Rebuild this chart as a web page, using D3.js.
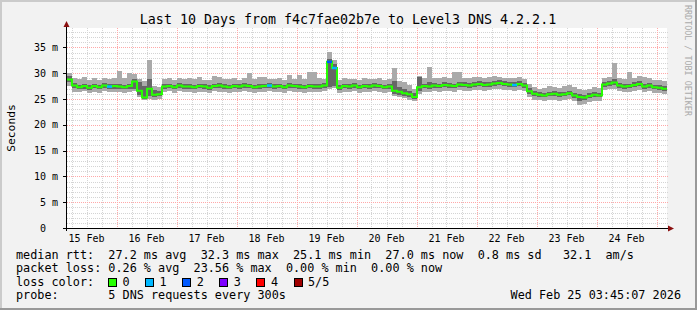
<!DOCTYPE html>
<html>
<head>
<meta charset="utf-8">
<script src="https://cdn.jsdelivr.net/npm/d3@7"></script>
<style>
body { margin: 0; background: #f2f2f2; }
text { font-family: "DejaVu Sans Mono", monospace; white-space: pre; }
</style>
</head>
<body>
<script>
// SmokePing style graph: Last 10 days, f4c7fae02b7e -> Level3 DNS 4.2.2.1

// one sample every 2 hours, starting at plot left edge
var startTime = new Date(2026, 1, 15, 4, 12);
var endTime = new Date(2026, 1, 25, 4, 12);
var stepHours = 2;

// median rtt (ms)
var median = [
  28.8, 27.6, 27.3, 27.5, 27.2, 27.5, 27.3, 27.6, 27.4, 27.5,
  27.4, 27.3, 27.5, 28.4, 26.6, 25.3, 27.0, 25.8, 25.9, 27.4,
  27.5, 27.3, 27.6, 27.4, 27.4, 27.3, 27.5, 27.4, 27.2, 27.5,
  27.6, 27.4, 27.3, 27.5, 27.4, 27.6, 27.5, 27.3, 27.4, 27.5,
  27.6, 27.4, 27.5, 27.3, 27.6, 27.5, 27.4, 27.3, 27.5, 27.4,
  27.4, 27.6, 32.2, 31.0, 27.2, 27.5, 27.4, 27.6, 27.3, 27.5,
  27.4, 27.6, 27.5, 27.3, 27.4, 26.6, 26.4, 26.1, 25.9, 25.4,
  27.3, 27.5, 27.4, 27.6, 27.5, 27.7, 27.6, 27.5, 27.8, 27.7,
  27.6, 27.8, 27.9, 27.7, 27.8, 28.0, 28.1, 27.9, 27.8, 27.7,
  27.9, 27.6, 26.5, 26.0, 25.8, 25.7, 25.9, 26.0, 25.8, 25.9,
  26.1, 25.7, 25.4, 25.3, 25.6, 25.8, 25.7, 27.8, 28.0, 28.2,
  27.6, 27.4, 27.5, 27.7, 27.9, 27.4, 27.6, 27.3, 27.2, 27.0
];
// smoke: fastest ping
var pingMin = [
  27.6, 26.4, 26.3, 26.5, 26.2, 26.4, 26.1, 26.5, 26.3, 26.4,
  26.3, 26.2, 26.4, 26.5, 25.3, 24.8, 25.0, 24.9, 25.0, 26.4,
  26.5, 26.2, 26.5, 26.3, 26.4, 26.2, 26.4, 26.3, 26.1, 26.5,
  26.4, 26.3, 26.2, 26.4, 26.3, 26.5, 26.4, 26.2, 26.3, 26.4,
  26.5, 26.3, 26.4, 26.2, 26.5, 26.4, 26.3, 26.2, 26.4, 26.3,
  26.3, 26.5, 27.0, 27.2, 26.2, 26.4, 26.3, 26.5, 26.2, 26.4,
  26.3, 26.5, 26.4, 26.2, 26.3, 25.6, 25.3, 25.1, 24.9, 24.7,
  26.0, 26.4, 26.3, 26.5, 26.4, 26.6, 26.5, 26.4, 26.7, 26.6,
  26.5, 26.7, 26.8, 26.6, 26.7, 26.9, 27.0, 26.8, 26.7, 26.6,
  26.8, 26.5, 25.4, 24.9, 24.8, 24.7, 24.8, 24.9, 24.7, 24.8,
  25.0, 24.6, 23.8, 24.1, 24.5, 24.7, 24.6, 26.7, 26.9, 27.0,
  26.5, 26.3, 26.4, 26.6, 26.7, 26.3, 26.5, 26.2, 26.1, 26.0
];
// smoke: second ping
var ping2 = [
  28.2, 27.1, 26.9, 27.0, 26.8, 27.1, 26.9, 27.1, 27.0, 27.0,
  26.9, 26.9, 27.0, 26.9, 25.8, 25.0, 25.6, 25.4, 25.5, 27.0,
  27.1, 26.9, 27.2, 27.0, 27.0, 26.9, 27.1, 27.0, 26.8, 27.1,
  27.2, 27.0, 26.9, 27.1, 27.0, 27.2, 27.1, 26.9, 27.0, 27.1,
  27.2, 27.0, 27.1, 26.9, 27.2, 27.1, 27.0, 26.9, 27.1, 27.0,
  27.0, 27.2, 27.4, 27.6, 26.8, 27.1, 27.0, 27.2, 26.9, 27.1,
  27.0, 27.2, 27.1, 26.9, 27.0, 26.0, 25.8, 25.6, 25.4, 25.0,
  26.6, 27.1, 27.0, 27.2, 27.1, 27.3, 27.2, 27.1, 27.4, 27.3,
  27.2, 27.4, 27.5, 27.3, 27.4, 27.6, 27.7, 27.5, 27.4, 27.3,
  27.5, 27.2, 26.0, 25.5, 25.4, 25.3, 25.5, 25.6, 25.4, 25.5,
  25.7, 25.2, 24.6, 24.8, 25.1, 25.4, 25.3, 27.4, 27.6, 27.8,
  27.2, 27.0, 27.1, 27.3, 27.5, 27.0, 27.2, 26.9, 26.8, 26.6
];
// smoke: fourth ping
var ping4 = [
  29.4, 28.1, 27.8, 28.0, 27.7, 28.0, 27.8, 28.1, 27.9, 28.0,
  27.9, 27.8, 28.0, 28.9, 28.2, 27.6, 28.8, 26.8, 26.6, 27.9,
  28.0, 27.8, 28.1, 27.9, 27.9, 27.8, 28.0, 27.9, 27.7, 28.0,
  28.1, 27.9, 27.8, 28.0, 27.9, 28.1, 28.0, 27.8, 27.9, 28.0,
  28.1, 27.9, 28.0, 27.8, 28.1, 28.0, 27.9, 27.8, 28.0, 27.9,
  27.9, 28.1, 32.8, 31.8, 27.7, 28.0, 27.9, 28.1, 27.8, 28.0,
  27.9, 28.1, 28.0, 27.8, 27.9, 28.4, 27.4, 27.0, 26.6, 26.2,
  29.2, 28.0, 28.2, 28.1, 28.0, 28.2, 28.1, 28.0, 28.3, 28.2,
  28.1, 28.3, 28.4, 28.2, 28.3, 28.5, 28.6, 28.4, 28.3, 28.2,
  28.4, 28.1, 27.2, 26.5, 26.3, 26.2, 26.4, 26.5, 26.3, 26.4,
  26.6, 26.2, 25.9, 25.8, 26.1, 26.3, 26.2, 28.3, 28.5, 28.9,
  28.1, 27.9, 28.0, 28.2, 28.4, 27.9, 28.1, 27.8, 27.7, 27.5
];
// smoke: slowest ping
var pingMax = [
  30.0, 29.0, 28.8, 29.2, 28.6, 29.0, 28.7, 29.1, 28.8, 29.0,
  30.4, 29.0, 30.0, 29.8, 28.8, 28.4, 32.5, 27.6, 27.4, 28.9,
  29.0, 28.7, 29.1, 28.8, 29.0, 28.8, 29.2, 28.7, 28.6, 29.4,
  29.3, 28.8, 28.9, 29.0, 28.7, 29.0, 30.0, 28.8, 29.3, 29.3,
  28.9, 28.8, 29.1, 28.7, 29.6, 28.9, 29.6, 28.8, 30.2, 30.2,
  29.0, 28.9, 34.1, 32.5, 28.6, 29.0, 28.8, 28.9, 28.7, 29.1,
  28.8, 28.9, 29.0, 28.7, 28.9, 31.0, 28.4, 28.2, 27.8, 27.0,
  29.4, 29.0, 31.2, 29.1, 29.0, 29.2, 29.0, 30.2, 30.2, 29.1,
  29.0, 29.3, 29.2, 29.0, 29.3, 29.4, 29.3, 29.1, 29.0, 29.0,
  29.2, 28.9, 28.0, 27.3, 27.0, 27.2, 27.5, 27.4, 27.2, 27.6,
  27.8, 27.3, 26.9, 26.8, 27.0, 27.3, 27.1, 29.0, 29.3, 31.9,
  29.0, 28.9, 30.2, 29.1, 29.4, 29.3, 29.0, 28.7, 28.6, 28.4
];
// samples with packet loss (index, lost pings)
var lossIndex = [8, 40, 52, 53, 89];
var lossCount = [1, 1, 2, 1, 1];

// legend
var lossLabels = ["0", "1", "2", "3", "4", "5/5"];
var lossColors = ["#26ff00", "#00b8ff", "#0059ff", "#7e00ff", "#ff0000", "#a00000"];
var rttLine = "median rtt:  27.2 ms avg  32.3 ms max  25.1 ms min  27.0 ms now  0.8 ms sd   32.1  am/s";
var lossLine = "packet loss: 0.26 % avg  23.56 % max  0.00 % min  0.00 % now";
var probeLine = "probe:       5 DNS requests every 300s";
var stamp = "Wed Feb 25 03:45:07 2026";
var yTicks = [0, 5, 10, 15, 20, 25, 30, 35];

var W = 697, H = 310;
var pLeft = 67, pRight = 667, pTop = 28, pBottom = 228;

var svg = d3.select("body").append("svg")
    .attr("width", W)
    .attr("height", H);

// background + 3d border
svg.append("rect").attr("width", W).attr("height", H).attr("fill", "#f2f2f2");
svg.append("path").attr("d", "M0,0H" + W + "V2H2V" + H + "H0Z").attr("fill", "#cbcbcb");
svg.append("path").attr("d", "M" + W + "," + H + "H0V" + (H - 2) + "H" + (W - 2) + "V0H" + W + "Z").attr("fill", "#999");

svg.append("rect")
    .attr("x", pLeft).attr("y", pTop)
    .attr("width", pRight - pLeft).attr("height", pBottom - pTop)
    .attr("fill", "#fff");

var x = d3.scaleTime().domain([startTime, endTime]).range([pLeft, pRight]);
var y = d3.scaleLinear().domain([0, 38.76]).range([pBottom, pTop]);

// grid
var grid = svg.append("g").attr("shape-rendering", "crispEdges");
var minorY = d3.range(1, 39).filter(function(v) { return v % 5 != 0; });
grid.selectAll(".hmin").data(minorY).enter().append("line")
    .attr("x1", pLeft).attr("x2", pRight + 1)
    .attr("y1", function(d) { return Math.round(y(d)) + 0.5; })
    .attr("y2", function(d) { return Math.round(y(d)) + 0.5; })
    .attr("stroke", "#d4d4d4").attr("stroke-dasharray", "1,1");
var minorX = d3.timeHour.every(6).range(startTime, endTime).filter(function(d) { return d.getHours() != 0; });
grid.selectAll(".vmin").data(minorX).enter().append("line")
    .attr("y1", pTop).attr("y2", pBottom)
    .attr("x1", function(d) { return Math.round(x(d)) + 0.5; })
    .attr("x2", function(d) { return Math.round(x(d)) + 0.5; })
    .attr("stroke", "#d4d4d4").attr("stroke-dasharray", "1,1");
grid.selectAll(".hmaj").data(yTicks.slice(1)).enter().append("line")
    .attr("x1", pLeft).attr("x2", pRight + 1)
    .attr("y1", function(d) { return Math.round(y(d)) + 0.5; })
    .attr("y2", function(d) { return Math.round(y(d)) + 0.5; })
    .attr("stroke", "#ffa8a8").attr("stroke-dasharray", "1,1");
var days = d3.timeDay.range(startTime, endTime);
grid.selectAll(".vmaj").data(days).enter().append("line")
    .attr("y1", pTop).attr("y2", pBottom)
    .attr("x1", function(d) { return Math.round(x(d)) + 0.5; })
    .attr("x2", function(d) { return Math.round(x(d)) + 0.5; })
    .attr("stroke", "#ffa8a8").attr("stroke-dasharray", "1,1");

// samples
var loss = median.map(function() { return 0; });
lossIndex.forEach(function(i, k) { loss[i] = lossCount[k]; });
var data = median.map(function(m, i) {
    return {
        t0: d3.timeHour.offset(startTime, i * stepHours),
        t1: d3.timeHour.offset(startTime, (i + 1) * stepHours),
        med: m, p1: pingMin[i], p2: ping2[i], p4: ping4[i], p5: pingMax[i], loss: loss[i]
    };
});

// smoke
var smoke = svg.append("g").attr("shape-rendering", "crispEdges");
smoke.selectAll(".outer").data(data).enter().append("rect")
    .attr("x", function(d) { return x(d.t0); })
    .attr("width", function(d) { return x(d.t1) - x(d.t0); })
    .attr("y", function(d) { return y(d.p5); })
    .attr("height", function(d) { return y(d.p1) - y(d.p5); })
    .attr("fill", "#aaaaaa");
smoke.selectAll(".inner").data(data).enter().append("rect")
    .attr("x", function(d) { return x(d.t0); })
    .attr("width", function(d) { return x(d.t1) - x(d.t0); })
    .attr("y", function(d) { return y(d.p4); })
    .attr("height", function(d) { return y(d.p2) - y(d.p4); })
    .attr("fill", "#666666");

// median line, coloured by loss
var stepLine = d3.line()
    .x(function(d) { return x(d.t); })
    .y(function(d) { return y(d.v); });
var pts = [];
data.forEach(function(d) { pts.push({t: d.t0, v: d.med}); pts.push({t: d.t1, v: d.med}); });
svg.append("path")
    .attr("d", stepLine(pts))
    .attr("fill", "none")
    .attr("stroke", lossColors[0])
    .attr("stroke-width", 2);
svg.selectAll(".lossseg").data(data.filter(function(d) { return d.loss > 0; })).enter().append("path")
    .attr("d", function(d) { return stepLine([{t: d.t0, v: d.med}, {t: d.t1, v: d.med}]); })
    .attr("stroke", function(d) { return lossColors[d.loss]; })
    .attr("stroke-width", 2.5);

// axes
svg.append("line").attr("x1", pLeft - 3).attr("x2", pRight + 3)
    .attr("y1", pBottom + 0.5).attr("y2", pBottom + 0.5)
    .attr("stroke", "#000").attr("shape-rendering", "crispEdges");
svg.append("line").attr("x1", pLeft - 0.5).attr("x2", pLeft - 0.5)
    .attr("y1", pBottom + 3).attr("y2", pTop - 3)
    .attr("stroke", "#000").attr("shape-rendering", "crispEdges");
svg.append("path").attr("d", "M" + (pRight + 1) + "," + (pBottom - 2.5) + "L" + (pRight + 7) + "," + (pBottom + 0.5) + "L" + (pRight + 1) + "," + (pBottom + 3.5) + "Z")
    .attr("fill", "#8b1010");
svg.append("path").attr("d", "M" + (pLeft - 3.5) + "," + (pTop - 1) + "L" + (pLeft - 0.5) + "," + (pTop - 7) + "L" + (pLeft + 2.5) + "," + (pTop - 1) + "Z")
    .attr("fill", "#8b1010");

// y tick marks + labels
svg.selectAll(".ytick").data(yTicks).enter().append("line")
    .attr("x1", pLeft - 4).attr("x2", pLeft)
    .attr("y1", function(d) { return Math.round(y(d)) + 0.5; })
    .attr("y2", function(d) { return Math.round(y(d)) + 0.5; })
    .attr("stroke", "#000").attr("shape-rendering", "crispEdges");
svg.selectAll(".ylab").data(yTicks).enter().append("text")
    .attr("x", 58)
    .attr("y", function(d) { return y(d) + 3.5; })
    .attr("text-anchor", "end")
    .attr("font-size", "10px")
    .attr("xml:space", "preserve")
    .text(function(d) { return d == 0 ? "0  " : d + " m"; });

// x labels at noon
var noons = d3.timeDay.range(new Date(2026, 1, 15), endTime)
    .map(function(d) { return d3.timeHour.offset(d, 12); })
    .filter(function(d) { return d < endTime; });
svg.selectAll(".xlab").data(noons).enter().append("text")
    .attr("x", function(d) { return x(d); })
    .attr("y", 241.5)
    .attr("text-anchor", "middle")
    .attr("font-size", "10px")
    .text(d3.timeFormat("%d %b"));

// title, axis title, watermark
svg.append("text").attr("x", 348).attr("y", 24).attr("text-anchor", "middle")
    .attr("font-size", "13.3px")
    .text("Last 10 Days from f4c7fae02b7e to Level3 DNS 4.2.2.1");
svg.append("text").attr("transform", "translate(15,128) rotate(-90)")
    .attr("text-anchor", "middle").attr("font-size", "11.3px")
    .text("Seconds");
svg.append("text").attr("transform", "translate(685,5) rotate(90)")
    .attr("font-size", "8.4px").attr("fill", "#aaa")
    .text("RRDTOOL / TOBI OETIKER");

// legend
var lg = svg.append("g").attr("font-size", "11.8px");
lg.append("text").attr("x", 16).attr("y", 258.5).attr("xml:space", "preserve").text(rttLine);
lg.append("text").attr("x", 16).attr("y", 272).attr("xml:space", "preserve").text(lossLine);
lg.append("text").attr("x", 16).attr("y", 285.5).text("loss color:");
lossLabels.forEach(function(s, i) {
    var bx = 108 + i * 37.1;
    lg.append("rect").attr("x", bx + 0.5).attr("y", 278.5).attr("width", 8).attr("height", 8)
        .attr("fill", lossColors[i]).attr("stroke", "#000").attr("shape-rendering", "crispEdges");
    lg.append("text").attr("x", bx + 14.5).attr("y", 285.5).text(s);
});
lg.append("text").attr("x", 16).attr("y", 299).attr("xml:space", "preserve").text(probeLine);
lg.append("text").attr("x", 681).attr("y", 299).attr("text-anchor", "end").text(stamp);
</script>
</body>
</html>
